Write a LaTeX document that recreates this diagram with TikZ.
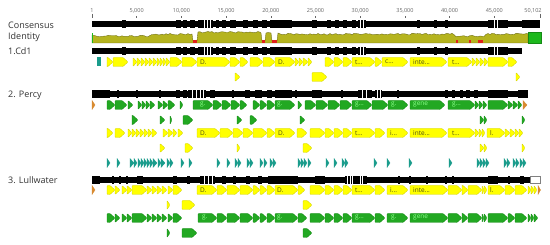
\documentclass[tikz,border=0pt]{standalone}
\usepackage{fontspec}
\setmainfont{Open Sans}
\definecolor{gyel}{HTML}{FFFF00}
\definecolor{gyelL}{HTML}{D0D000}
\definecolor{ggrn}{HTML}{22A822}
\definecolor{ggrnL}{HTML}{158A15}
\definecolor{gteal}{HTML}{1A9C8C}
\definecolor{gorg}{HTML}{D88A30}
\definecolor{idfill}{HTML}{B5B41F}
\definecolor{idline}{HTML}{6A6A10}
\definecolor{idred}{HTML}{E0201A}
\definecolor{idgrn}{HTML}{1DB81D}
\definecolor{txt}{HTML}{333333}
\definecolor{rul}{HTML}{666666}
\definecolor{ylabc}{HTML}{4A4A15}
\definecolor{glabc}{HTML}{8CFF8C}
\tikzset{
  yel/.style={fill=gyel,draw=gyelL,line width=0.3pt,rounded corners=0.8pt},
  grn/.style={fill=ggrn,draw=ggrnL,line width=0.3pt,rounded corners=0.8pt},
  tea/.style={fill=gteal,draw=gteal,line width=0.3pt},
  org/.style={fill=gorg,draw=gorg,line width=0.3pt},
  rowlab/.style={anchor=west,text=txt,inner sep=0pt,font=\fontsize{9}{10}\selectfont},
  rulab/.style={text=rul,inner sep=0pt,font=\fontsize{5.5}{6}\selectfont},
  ylab/.style={anchor=west,text=ylabc,inner sep=0pt,font=\fontsize{6.5}{7}\selectfont},
  glab/.style={anchor=west,text=glabc,inner sep=0pt,font=\fontsize{6.5}{7}\selectfont},
}
\newcommand\gene[4]{%
  \pgfmathparse{((#2)-(#1))>5.5?1:0}%
  \ifnum\pgfmathresult=1
    \filldraw[#4] ({#1},{#3-4.5}) -- ({#2-5},{#3-4.5}) -- ({#2},{#3}) -- ({#2-5},{#3+4.5}) -- ({#1},{#3+4.5}) -- cycle;
  \else
    \filldraw[#4] ({#1},{#3-4.5}) -- ({#2},{#3}) -- ({#1},{#3+4.5}) -- cycle;
  \fi}
\newcommand\generow[3]{\foreach \a/\b in {#3}{\gene{\a}{\b}{#1}{#2}}}
\newcommand\seqbar[3]{%
  \fill[black] (92,{#1-2.6}) rectangle ({#2},{#1+2.6});
  \foreach \a/\b in {#3}{\fill[black] ({\a},{#1-3.8}) rectangle ({\b},{#1+3.8});}}
\newcommand\seqgaps[2]{\foreach \g in {#2}{\draw[white,line width=0.45pt] ({\g},{#1-3.8}) -- ({\g},{#1+3.8});}}
\begin{document}
\begin{tikzpicture}[x=1pt,y=-1pt]
\useasboundingbox (0,0) rectangle (550,245);
\fill[white] (0,0) rectangle (550,245);

% ruler
\node[rulab] (r1) at (92,11) {1};
\draw[rul,line width=0.4pt] (92,14) -- (92,18);
\foreach \p/\t/\n in {136.7/5{,}000/r2, 181.4/10{,}000/r3, 226.1/15{,}000/r4, 270.8/20{,}000/r5, 315.5/25{,}000/r6, 360.2/30{,}000/r7, 404.9/35{,}000/r8, 449.6/40{,}000/r9, 494.3/45{,}000/r10}{
  \node[rulab] (\n) at (\p,11) {\t};
  \draw[rul,line width=0.5pt] (\p,16.5) -- (\p,18);
}
\node[rulab] (r11) at (533,11) {50,102};
\draw[rul,line width=0.4pt] (540,14) -- (540,18);

% labels
\node[rowlab] (lcons) at (8,25) {Consensus};
\node[rowlab] (lid) at (8,37) {Identity};
\node[rowlab] (lcd1) at (8,51) {1.Cd1};
\node[rowlab] (lper) at (8,95) {2. Percy};
\node[rowlab] (llul) at (8,180) {3. Lullwater};

% consensus bar
\seqbar{24}{540}{122/126,176/181,183/187,190/195,198/213,216/219,222/226,230/236,243/248,253/258,262/267,270/275,275/292,312/317,327/331,335/339,343/347,352/356,358/366,417/420,434/437,445/448,488/508,522/540}
\seqgaps{24}{204,207,210,360,363,494,497}

% identity graph
\pgfmathsetseed{7}
\filldraw[fill=idfill,draw=idline,line width=0.35pt] (92,43) -- (92,35)
  foreach \x in {94,96,...,190}{ -- (\x,{35.2-(\x>150)*1.8+rnd*1.6}) }
  -- (192,34) -- (193,41) -- (197,41) -- (198,32)
  foreach \x in {200,202,...,260}{ -- (\x,{31.5+rnd*1.6}) }
  -- (261,33) -- (262,41) -- (265,41) -- (266,33) -- (268,32.5) -- (271,33) -- (272,41) -- (277,41) -- (278,33)
  foreach \x in {280,282,...,526}{ -- (\x,{33.3+(\x>455)*(\x<485)*1.8+rnd*1.6}) }
  -- (528,33.5) -- (528,43) -- cycle;
\foreach \a/\b in {193/197,262/265,272/277,456/458,469/471,478/483}{\fill[idred] (\a,40) rectangle (\b,43);}
\fill[idgrn] (92,33) rectangle (93,43);
\filldraw[fill=idgrn,draw=ggrnL,line width=0.4pt] (528,32) rectangle (541,43);

% Cd1
\seqbar{51}{522}{122/126,176/181,183/187,190/195,198/213,216/219,222/226,230/236,243/248,253/258,262/267,270/275,275/292,312/317,327/331,335/339,343/347,352/356,358/366,417/420,434/437,445/448,488/508}
\seqgaps{51}{204,207,210,360,363,494,497}
\fill[gteal] (96.5,57.5) rectangle (100.5,66.5);
\generow{62}{yel}{107/113,113/128,133/137,137/141,141/145,145/149,149/153,153/157,157/160,160/163,163/166,166/170,170/182,182/197,197/230,230/240,240/248,250/263,263/275,275/295,295/299,299/303,303/308,308/312,325/334,334/343,343/352,352/375,375/382,382/408,410/447,448/472,472/476,476/480,480/484,484/488,488/508,508/517}
\generow{77}{yel}{235/240,312/327,516/520}
\node[ylab] (c1) at (200,62) {D.};
\node[ylab] (c2) at (278,62) {D.};
\node[ylab] (c3) at (355,62) {t...};
\node[ylab] (c4) at (385,62) {c...};
\node[ylab] (c5) at (413,62) {inte...};
\node[ylab] (c6) at (452,62) {t...};

% Percy
\seqbar{94}{528}{92/110,117/119,136/138,159/161,176/180,183/187,188/206,210/215,232/234,245/250,255/262,267/272,275/292,295/297,312/322,341/343,358/372,375/382,397/399,445/448,452/455,460/463,466/470,474/478,488/508,518/528}
\seqgaps{94}{192,196,200,203,362,366,377,380}
\generow{105}{org}{92/95,523/527}
\generow{105}{grn}{107/115,115/127,128/133,138/142,142/146,146/150,150/155,158/163,163/168,168/175,180/183,193/213,213/222,222/231,231/240,240/247,253/260,260/267,267/275,275/295,298/302,305/316,316/328,328/340,340/352,352/372,372/388,388/408,410/445,448/475,475/479,479/483,483/487,488/508,508/513,513/518,518/522}
\node[glab] (p1) at (200,105) {g.};
\node[glab] (p2) at (277,105) {g.};
\node[glab] (p3) at (355,105) {g...};
\node[glab] (p4) at (391,105) {g.};
\node[glab] (p5) at (413,105) {gene};
\node[glab] (p6) at (452,105) {g...};
\generow{120}{grn}{132/138,160/165,170/172,183/193,237/242,250/257,300/305,480/484,484/487,522/525}
\generow{133}{yel}{107/113,115/125,128/132,132/136,136/140,140/144,144/148,148/152,152/157,163/168,168/173,173/177,178/183,197/220,220/233,233/243,243/253,253/267,267/275,275/295,297/307,310/325,325/334,334/343,343/352,352/375,375/385,387/408,410/447,448/475,475/479,479/482,482/485,487/505,505/510,510/515,515/519,519/523}
\node[ylab] (p7) at (200,133) {D.};
\node[ylab] (p8) at (278,133) {D.};
\node[ylab] (p9) at (355,133) {t...};
\node[ylab] (p10) at (390,133) {i...};
\node[ylab] (p11) at (413,133) {inte...};
\node[ylab] (p12) at (452,133) {t...};
\node[ylab] (p13) at (490,133) {l.};
\generow{148}{yel}{160/165,185/193,237/240,303/312,480/484,484/487,522/525}
\generow{163}{tea}{107/110,117/120,130/134,134/137,138/141,141/144,144/147,147/150,150/153,153/157,158/161,161/165,167/170,170/173,181/184,189/192,217/220,227/230,235/238,238/241,247/250,250/253,260/263,264/267,270/273,273/276,298/301,301/304,304/307,308/311,326/329,334/337,342/345,345/348,374/377,387/390,409/412,449/452,477/480,480/483,483/486,486/489,504/507,507/510,513/516,516/519,520/523,523/526}

% Lullwater
\seqbar{180}{530}{92/100,112/114,119/121,126/128,137/143,173/177,187/190,200/215,222/226,233/236,246/250,258/262,268/275,275/298,315/325,345/367,398/400,409/411,426/428,445/447,452/454,488/498,508/510,520/524}
\seqgaps{180}{204,208,212,347,350,352,360,362}
\filldraw[fill=white,draw=gray,line width=0.6pt] (530.5,176.5) rectangle (540.5,183.5);
\generow{190}{org}{92/95,538/540.5}
\generow{190}{yel}{107/115,115/120,122/127,127/132,132/147,147/152,152/157,157/162,162/167,168/173,173/182,197/217,217/227,227/240,240/253,253/260,260/267,267/275,275/298,298/305,310/325,325/334,334/343,343/352,352/375,375/385,387/408,410/448,448/462,462/468,468/482,482/484,484/487,488/505,505/515,515/527,528/531,531/534,534/537}
\node[ylab] (l1) at (200,190) {D.};
\node[ylab] (l2) at (277,190) {D.};
\node[ylab] (l3) at (355,190) {t...};
\node[ylab] (l4) at (390,190) {i...};
\node[ylab] (l5) at (413,190) {inte...};
\node[ylab] (l6) at (490,190) {l.};
\generow{205}{yel}{167/170,182/195,303/312}
\generow{218}{grn}{107/115,115/120,122/127,127/132,132/147,147/152,152/157,157/162,162/167,168/173,173/182,198/217,217/227,227/240,240/253,253/260,260/267,267/275,275/298,298/307,310/325,325/334,334/343,343/352,352/375,375/385,387/408,410/448,448/462,462/468,468/482,482/484,484/487,488/508,508/515,515/527,528/531,531/534,534/538}
\node[glab] (l7) at (202,218) {g.};
\node[glab] (l8) at (277,218) {g.};
\node[glab] (l9) at (355,218) {g...};
\node[glab] (l10) at (391,218) {g.};
\node[glab] (l11) at (413,218) {gene};
\generow{233}{grn}{167/170,182/197,303/312}
\end{tikzpicture}
\end{document}
